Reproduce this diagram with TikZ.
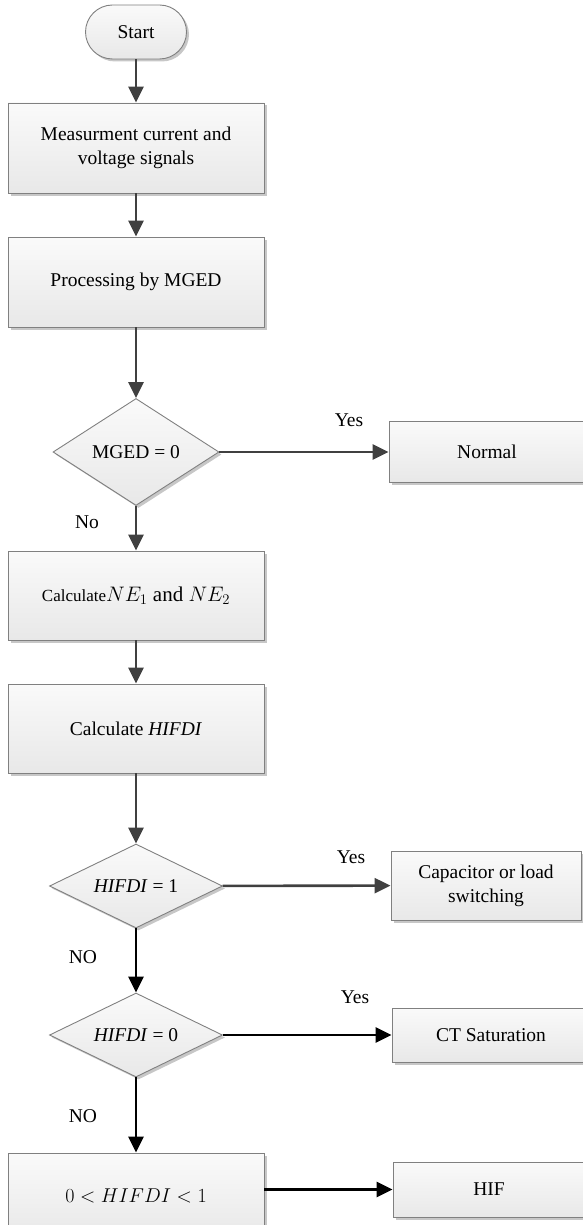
\RequirePackage{fix-cm}
\documentclass[tikz,border=0pt]{standalone}
\usepackage{fontspec}
\setmainfont{Liberation Serif}
\usepackage{tikz}
\usetikzlibrary{shapes.geometric, arrows.meta, shadows}
\colorlet{box color}{black!50}
\colorlet{flow color}{black!75}
\tikzset{stepbox/.style={draw=box color, line width=0.9pt, top color=black!2, bottom color=black!9,
    drop shadow={shadow xshift=2.5pt, shadow yshift=-2.5pt, fill=black!22, opacity=1},
    align=center, inner sep=0pt, font=\fontsize{19.5}{24}\selectfont}}
\tikzset{testbox/.style={stepbox, diamond, aspect=2}}
\tikzset{flow/.style={line width=2.6pt, flow color, -{Triangle[width=15pt, length=16pt]}}}
\tikzset{flowk/.style={flow, black}}
\tikzset{lbl/.style={font=\fontsize{19.5}{24}\selectfont}}

\begin{document}
\begin{tikzpicture}[x=1pt, y=-1pt]
    \useasboundingbox (0, 0) rectangle (582, 1225);
    % upper part
    \node[stepbox, rounded corners=27pt, minimum width=101pt, minimum height=54pt] (start) at (136, 32) {Start};
    \node[stepbox, minimum width=256pt, minimum height=90pt] (measure) at (136, 148) {Measurment current and\\voltage signals};
    \node[stepbox, minimum width=256pt, minimum height=90pt] (process) at (136, 282) {Processing by MGED};
    \node[testbox, minimum width=166pt, minimum height=107pt] (mgedtest) at (136, 452) {MGED = 0};
    \node[stepbox, minimum width=196pt, minimum height=61pt] (normal) at (487, 452) {Normal};
    \node[stepbox, minimum width=256pt, minimum height=89pt] (calcne) at (136, 595.5)
        {{\fontsize{17}{20}\selectfont Calculate}{\fontsize{21}{26}\selectfont$NE_1$ and $NE_2$}};
    \node[stepbox, minimum width=256pt, minimum height=89pt] (calchifdi) at (136, 728.5) {Calculate \textit{HIFDI}};
    % lower part
    \node[testbox, minimum width=173pt, minimum height=84pt] (test1) at (136, 886) {\textit{HIFDI} = 1};
    \node[stepbox, minimum width=190pt, minimum height=69pt] (capacitor) at (486, 885.5) {Capacitor or load\\switching};
    \node[testbox, minimum width=173pt, minimum height=84pt] (test0) at (136, 1035) {\textit{HIFDI} = 0};
    \node[stepbox, minimum width=198pt, minimum height=54pt] (ctsat) at (491, 1035) {CT Saturation};
    \node[stepbox, minimum width=256pt, minimum height=86pt] (hifrange) at (136, 1196)
        {\fontsize{20}{24}\selectfont$0 < HIFDI < 1$};
    \node[stepbox, minimum width=192pt, minimum height=55pt] (hif) at (489, 1189.5) {HIF};
    % labels
    \node[lbl] (yes1) at (349, 420) {Yes};
    \node[lbl] (no1) at (87, 522) {No};
    \node[lbl] (yes2) at (351, 857) {Yes};
    \node[lbl] (no2) at (83, 957) {NO};
    \node[lbl] (yes3) at (355, 997) {Yes};
    \node[lbl] (no3) at (83, 1116) {NO};
    % connectors
    \draw[flow] (start) -- (measure);
    \draw[flow] (measure) -- (process);
    \draw[flow] (process) -- (mgedtest);
    \draw[flow] (mgedtest) -- (normal);
    \draw[flow] (mgedtest) -- (calcne);
    \draw[flow] (calcne) -- (calchifdi);
    \draw[flow] (calchifdi) -- (test1);
    \draw[flow] (test1) -- (capacitor);
    \draw[flowk] (test1) -- (test0);
    \draw[flowk] (test0) -- (ctsat);
    \draw[flowk] (test0) -- (hifrange);
    \draw[flowk] (hif.west -| hifrange.east) -- (hif.west);
\end{tikzpicture}
\end{document}
